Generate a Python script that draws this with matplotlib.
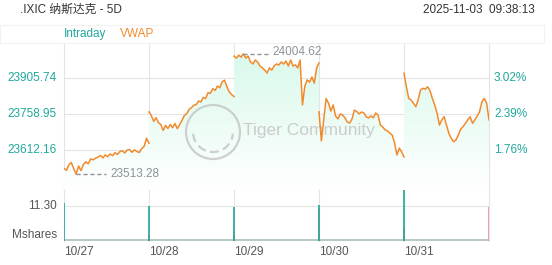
import numpy as np
import matplotlib
matplotlib.use("Agg")
import matplotlib.pyplot as plt
from matplotlib.patches import Polygon, Ellipse, Arc, Rectangle

plt.rcParams['font.family'] = ['Liberation Sans', 'Noto Sans CJK SC', 'DejaVu Sans']

# --- data ---
days = ['10/27', '10/28', '10/29', '10/30', '10/31']
price_ticks = [23612.16, 23758.95, 23905.74]
pct_labels = ['1.76%', '2.39%', '3.02%']
vol_tick = 11.30
day_low = 23513.28
day_high = 24004.62

d1 = [23537, 23529, 23552, 23561, 23536, 23513.28, 23547, 23528, 23553, 23564, 23556, 23576,
      23572, 23579, 23583, 23590, 23580, 23592, 23585, 23596, 23589, 23601, 23594, 23606,
      23609, 23600, 23612, 23614, 23603, 23613, 23606, 23602, 23618, 23627, 23660, 23640]
d2 = [23768, 23752, 23729, 23744, 23724, 23716, 23692, 23712, 23700, 23716, 23703, 23720,
      23699, 23716, 23733, 23753, 23760, 23778, 23785, 23795, 23797, 23812, 23808, 23827,
      23822, 23846, 23843, 23862, 23855, 23873, 23866, 23890, 23897, 23870, 23849, 23838, 23830]
d3 = [23995, 23987, 23999, 23991, 24004.62, 23987, 23995, 23971, 23963, 23979, 23971, 23955,
      23947, 23938, 23926, 23947, 23938, 23955, 23963, 23959, 23971, 23963, 23975, 23955,
      23979, 23955, 23959, 23947, 23979, 23796, 23873, 23898, 23889, 23910, 23885, 23947, 23967]
d4 = [23768, 23649, 23735, 23822, 23804, 23771, 23796, 23751, 23739, 23759, 23755, 23743,
      23726, 23722, 23739, 23775, 23769, 23759, 23767, 23763, 23747, 23743, 23751, 23743,
      23763, 23755, 23714, 23706, 23694, 23690, 23681, 23673, 23641, 23592, 23620, 23604, 23584]
d5 = [23925, 23870, 23823, 23816, 23803, 23789, 23816, 23857, 23864, 23860, 23870, 23854,
      23823, 23796, 23762, 23714, 23735, 23748, 23714, 23680, 23660, 23646, 23653, 23673,
      23697, 23707, 23721, 23735, 23748, 23721, 23735, 23751, 23768, 23809, 23823, 23803, 23735]
prices = [d1, d2, d3, d4, d5]

open_vol = [12.3, 11.2, 11.0, 11.5, 16.5]
close_vol = [2.0, 3.0, 10.5, 4.0, 11.0]
base_vol = [0.45, 0.4, 0.45, 0.4, 0.45]

TEAL = '#1fa89b'
ORANGE = '#f28a2c'
GRID = '#e4e4e4'
TXT = '#555555'
ANN = '#8d929b'

W, H = 552, 265
def fx(px):
    return px / W
def fy(py):
    return 1 - py / H

fig = plt.figure(figsize=(W / 100, H / 100), dpi=100)

# legend band
fig.patches.append(Rectangle((0, fy(43)), fx(544), fy(25) - fy(43), transform=fig.transFigure,
                             facecolor='none', edgecolor='#f2f2f2', lw=0.8))
fig.text(fx(20), fy(10), '.IXIC 纳斯达克 - 5D', ha='left', va='center', fontsize=8.5, color='#333333')
fig.text(fx(535), fy(10), '2025-11-03  09:38:13', ha='right', va='center', fontsize=8.5, color='#333333')
fig.text(fx(64), fy(34), 'Intraday', ha='left', va='center', fontsize=8.5, color=TEAL)
fig.text(fx(120), fy(34), 'VWAP', ha='left', va='center', fontsize=8.5, color=ORANGE)

# --- price panel ---
ax = fig.add_axes([fx(64), fy(190), fx(489) - fx(64), fy(43) - fy(190)])
ylo, yhi = 23449, 24048.5
ax.axis('off')

for t in price_ticks:
    ax.axhline(t, color=GRID, lw=0.8, zorder=0)
for d in range(len(days) + 1):
    ax.axvline(d, color=GRID, lw=0.8, zorder=0, clip_on=False)

# vertical mint -> white gradient used under each day's line
tt = np.linspace(0, 1, 256)[:, None]
mint = np.array([0.84, 0.975, 0.915])
grad = np.ones((256, 1, 4))
grad[:, 0, :3] = mint * (1 - tt) + tt

for i, p in enumerate(prices):
    x = i + np.linspace(0, 1, len(p))
    ax.plot(x, p, color=ORANGE, lw=1.1, zorder=4)
    poly = Polygon(list(zip(x, p)) + [(x[-1], ylo), (x[0], ylo)], closed=True,
                   facecolor='none', edgecolor='none')
    ax.add_patch(poly)
    im = ax.imshow(grad, extent=[0, len(days), ylo, yhi], aspect='auto', origin='upper', zorder=1)
    im.set_clip_path(poly)

ax.set_xlim(0, len(days))
ax.set_ylim(ylo, yhi)

# high / low markers
xs_low = np.argmin(d1) / (len(d1) - 1)
ax.plot([xs_low, xs_low + 0.35], [day_low, day_low], ls=(0, (3, 2)), color=ANN, lw=1, zorder=5)
ax.text(xs_low + 0.4, day_low, f'{day_low:.2f}', ha='left', va='center', fontsize=8.5, color=ANN, zorder=5)
xs_high = 2 + np.argmax(d3) / (len(d3) - 1)
ax.plot([xs_high, xs_high + 0.3], [day_high, day_high], ls=(0, (3, 2)), color=ANN, lw=1, zorder=5)
ax.text(xs_high + 0.34, day_high + 6, f'{day_high:.2f}', ha='left', va='center', fontsize=8.5, color=ANN, zorder=5)

for t, lab in zip(price_ticks, pct_labels):
    ax.text(-0.0165, t, f'{t:.2f}', transform=ax.get_yaxis_transform(), ha='right', va='center',
            fontsize=8.5, color=TEAL)
    ax.text(1.0118, t, lab, transform=ax.get_yaxis_transform(), ha='left', va='center',
            fontsize=8.5, color=TEAL)

# watermark
wm = '#c4c4c4'
ring = Ellipse((fx(213), fy(132)), 54 / W, 54 / H, transform=fig.transFigure, facecolor='none',
               edgecolor=wm, lw=1.6, alpha=0.8, zorder=3)
ax.add_patch(ring)
inner = Arc((fx(213), fy(132)), 40 / W, 40 / H, theta1=190, theta2=350, transform=fig.transFigure,
            edgecolor=wm, lw=1.6, alpha=0.8, zorder=3, ls=(0, (4, 2)))
ax.add_patch(inner)
ax.text(fx(243), fy(131), 'Tiger Community', transform=fig.transFigure, ha='left', va='center',
        fontsize=12.5, color=wm, alpha=0.85, zorder=3)

# --- volume panel ---
vax = fig.add_axes([fx(64), fy(240.7), fx(489) - fx(64), fy(190) - fy(240.7)])
vax.axis('off')
vax.set_xlim(0, len(days))
vax.set_ylim(0, 16.4)
vax.axhline(vol_tick, color=GRID, lw=0.8, zorder=0)
vax.axhline(0, color='#d0d0d0', lw=0.8, zorder=0)
for d in range(len(days) + 1):
    vax.axvline(d, color=GRID, lw=0.8, zorder=0, clip_on=False)
for d in range(len(days)):
    vax.fill_between([d, d + 1], 0, base_vol[d], color='#b9c9c7', lw=0, zorder=1)
    vax.vlines(d + 1 - 0.004, 0, close_vol[d], color='#f08c9a', lw=1.2, zorder=2)
    vax.vlines(d + 0.004, 0, open_vol[d], color=TEAL, lw=1.2, zorder=3)
    vax.text(d, -0.223, days[d], transform=vax.get_xaxis_transform(), ha='left', va='center',
             fontsize=8.5, color=TXT)

vax.text(-0.0165, vol_tick, f'{vol_tick:.2f}', transform=vax.get_yaxis_transform(), ha='right',
         va='center', fontsize=8.5, color=TXT)
vax.text(-0.0165, 0.103, 'Mshares', transform=vax.transAxes, ha='right', va='center',
         fontsize=8.5, color=TXT)

fig.savefig('out.png', dpi=100)
